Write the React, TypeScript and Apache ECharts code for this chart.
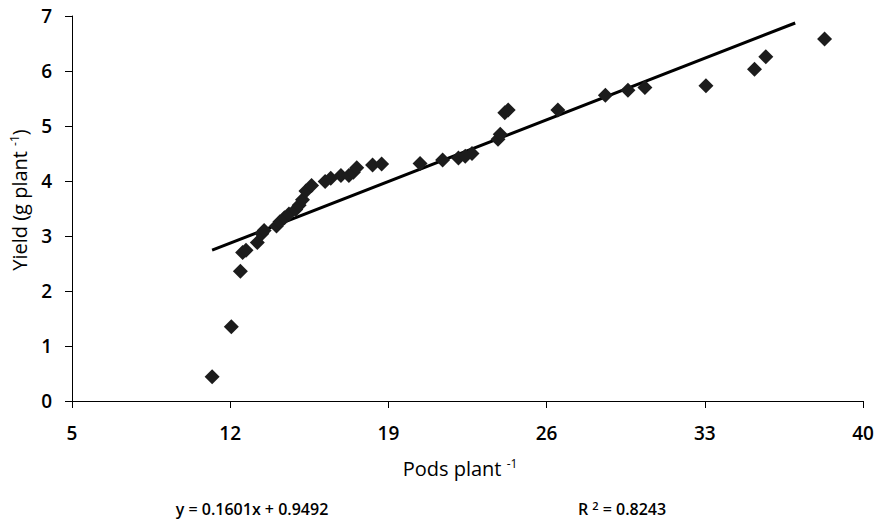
import React, { useEffect, useRef } from "react";
import * as echarts from "echarts";

const podsX = [
  11.2, 12.05, 12.45, 12.55, 12.7, 13.2, 13.4, 13.5, 14.05, 14.2, 14.4, 14.6,
  14.9, 15.05, 15.2, 15.35, 15.6, 16.2, 16.45, 16.9, 17.25, 17.45, 17.6, 18.3,
  18.7, 20.4, 21.4, 22.1, 22.4, 22.7, 23.85, 23.95, 24.15, 24.3, 26.5, 28.6,
  29.6, 30.35, 33.05, 35.2, 35.7, 38.3,
];
const yieldY = [
  0.44, 1.35, 2.36, 2.7, 2.74, 2.88, 3.04, 3.1, 3.18, 3.26, 3.33, 3.4, 3.48,
  3.56, 3.66, 3.82, 3.92, 3.99, 4.05, 4.1, 4.1, 4.16, 4.24, 4.29, 4.31, 4.32,
  4.38, 4.42, 4.45, 4.5, 4.76, 4.85, 5.24, 5.29, 5.29, 5.56, 5.65, 5.7, 5.73,
  6.03, 6.26, 6.58,
];
const trendSlope = 0.1601;
const trendIntercept = 0.9492;
const trendX = [11.2, 37.0];
const xTicks = [5, 12, 19, 26, 33, 40];
const yTicks = [0, 1, 2, 3, 4, 5, 6, 7];

const FONT = "'Open Sans', 'DejaVu Sans', sans-serif";

export default function App() {
  const ref = useRef<HTMLDivElement>(null);
  useEffect(() => {
    if (!ref.current) return;
    const chart = echarts.init(ref.current, null, { renderer: "svg" });
    const scatterData = podsX.map((x, i) => [x, yieldY[i]]);
    const trendData = trendX.map((x) => [x, trendSlope * x + trendIntercept]);
    const sup = {
      fontSize: 12,
      fontFamily: FONT,
      fontWeight: 500,
      color: "#000",
      verticalAlign: "top",
      padding: [0, 0, 10, 0],
    };
    chart.setOption({
      animation: false,
      backgroundColor: "#ffffff",
      grid: { left: 72, right: 18, top: 16, bottom: 120, containLabel: false },
      xAxis: {
        type: "value",
        min: xTicks[0],
        max: xTicks[xTicks.length - 1],
        interval: 7,
        axisLine: { show: true, lineStyle: { color: "#000", width: 1 } },
        axisTick: { show: true, length: 7, lineStyle: { color: "#000" } },
        splitLine: { show: false },
        axisLabel: { color: "#000", fontSize: 19, fontWeight: 600, fontFamily: FONT, margin: 22 },
      },
      yAxis: {
        type: "value",
        min: yTicks[0],
        max: yTicks[yTicks.length - 1],
        interval: 1,
        axisLine: { show: true, lineStyle: { color: "#000", width: 1 } },
        axisTick: { show: true, length: 7, lineStyle: { color: "#000" } },
        splitLine: { show: false },
        axisLabel: { color: "#000", fontSize: 19, fontWeight: 600, fontFamily: FONT, margin: 20 },
      },
      series: [
        {
          type: "line",
          data: trendData,
          symbol: "none",
          lineStyle: { color: "#000", width: 3 },
          z: 3,
        },
        {
          type: "scatter",
          data: scatterData,
          symbol: "diamond",
          symbolSize: 15,
          itemStyle: { color: "#1c1c1c", opacity: 1 },
          z: 4,
        },
      ],
      graphic: [
        {
          type: "text",
          x: 19,
          y: 200,
          rotation: Math.PI / 2,
          style: {
            text: "{n|Yield (g plant }{s|-1}{n|)}",
            align: "center",
            verticalAlign: "middle",
            rich: {
              n: { fontSize: 20, fontFamily: FONT, fontWeight: 400, color: "#000" },
              s: sup,
            },
          },
        },
        {
          type: "text",
          x: 460,
          y: 468,
          style: {
            text: "{n|Pods plant }{s|-1}",
            align: "center",
            verticalAlign: "middle",
            rich: {
              n: { fontSize: 20, fontFamily: FONT, fontWeight: 400, color: "#000" },
              s: sup,
            },
          },
        },
        {
          type: "text",
          x: 252,
          y: 509,
          style: {
            text: "y = 0.1601x + 0.9492",
            align: "center",
            verticalAlign: "middle",
            fontSize: 16,
            fontWeight: 600,
            fontFamily: FONT,
            fill: "#000",
          },
        },
        {
          type: "text",
          x: 622,
          y: 509,
          style: {
            text: "{n|R }{s|2}{n| = 0.8243}",
            align: "center",
            verticalAlign: "middle",
            rich: {
              n: { fontSize: 16, fontFamily: FONT, fontWeight: 600, color: "#000" },
              s: { fontSize: 11, fontFamily: FONT, fontWeight: 600, color: "#000", verticalAlign: "top", padding: [0, 0, 7, 0] },
            },
          },
        },
      ],
    });
    return () => chart.dispose();
  }, []);
  return <div ref={ref} style={{ width: 881, height: 521, position: "absolute", left: 0, top: 0 }} />;
}
